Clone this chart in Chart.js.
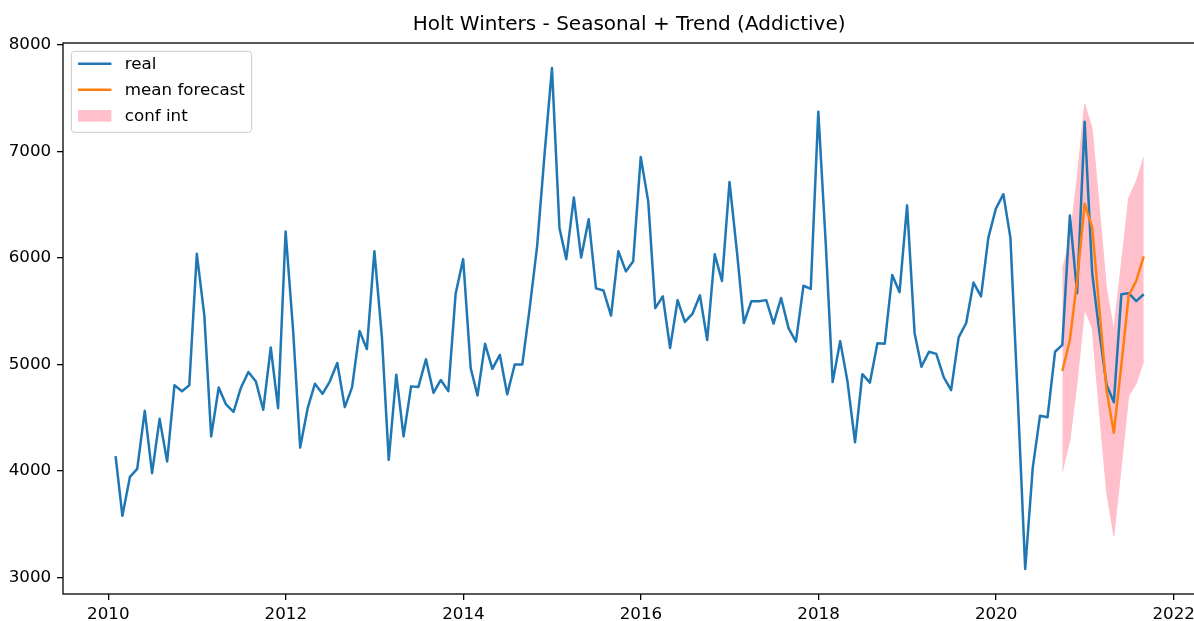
<!DOCTYPE html>
<html>
<head>
<meta charset="utf-8">
<script src="https://cdn.jsdelivr.net/npm/chart.js@4/dist/chart.umd.min.js"></script>
<style>
  html, body { margin: 0; padding: 0; background: #fff; overflow: hidden; }
  #wrap { position: relative; width: 1200px; height: 621px; }
</style>
</head>
<body>
<div id="wrap"><canvas id="chart"></canvas></div>
<script>
// ---- data ----
const chartTitle = 'Holt Winters - Seasonal + Trend (Addictive)';
const seriesLabels = ['real', 'mean forecast', 'conf int'];

// monthly observations, first month below (month-end timestamps)
const realStart = '2010-01';
const real = [
  4140, 3580, 3945, 4020, 4565, 3980, 4490, 4090, 4805, 4750, 4805, 6040,
  5460, 4325, 4785, 4625, 4555, 4780, 4930, 4840, 4575, 5160, 4590, 6250,
  5320, 4220, 4590, 4820, 4725, 4840, 5015, 4600, 4785, 5315, 5145, 6065,
  5255, 4105, 4905, 4325, 4795, 4790, 5050, 4735, 4855, 4750, 5665, 5990,
  4965, 4710, 5195, 4960, 5090, 4720, 5000, 5000, 5520, 6110, 6960, 7785,
  6280, 5990, 6570, 6005, 6365, 5715, 5695, 5460, 6065, 5875, 5970, 6950,
  6530, 5530, 5640, 5155, 5605, 5400, 5475, 5650, 5230, 6035, 5785, 6715,
  6050, 5390, 5595, 5595, 5605, 5385, 5625, 5340, 5215, 5740, 5710, 7375,
  6120, 4835, 5220, 4840, 4270, 4910, 4830, 5200, 5195, 5840, 5680, 6495,
  5295, 4980, 5120, 5100, 4880, 4760, 5255, 5390, 5770, 5640, 6190, 6465,
  6600, 6190, 4650, 3080, 4030, 4520, 4505, 5120, 5185, 6400, 5670, 7280,
  5860, 5330, 4810, 4645, 5660, 5670, 5595, 5660
];

// forecast horizon
const forecastStart = '2020-09';
const meanForecast = [4940, 5230, 5790, 6510, 6285, 5560, 4760, 4360, 5000, 5650, 5785, 6015];
const confUpper    = [5890, 6180, 6750, 7450, 7215, 6510, 5710, 5320, 5950, 6565, 6720, 6945];
const confLower    = [3995, 4290, 4840, 5525, 5340, 4600, 3810, 3390, 4050, 4705, 4820, 5035];

// axis ticks
const xTicks = [2010, 2012, 2014, 2016, 2018, 2020, 2022];
const yTicks = [3000, 4000, 5000, 6000, 7000, 8000];

// ---- helpers ----
// month-end of (start + k months) as a decimal year
function monthEndYear(start, k) {
  const [y, m] = start.split('-').map(Number);
  const d = Date.UTC(y, m + k, 0);
  const yr = new Date(d).getUTCFullYear();
  const a = Date.UTC(yr, 0, 1), b = Date.UTC(yr + 1, 0, 1);
  return yr + (d - a) / (b - a);
}
const toPoints = (start, vals) => vals.map((v, i) => ({ x: monthEndYear(start, i), y: v }));

const FONT = 'DejaVu Sans';
const BLUE = '#1f77b4', ORANGE = '#ff7f0e', PINK = '#ffc0cb';

// frame around the plotting area
const frame = {
  id: 'frame',
  afterDatasetsDraw(chart) {
    const { ctx, chartArea: a } = chart;
    ctx.save();
    ctx.strokeStyle = '#000';
    ctx.lineWidth = 1.3;
    ctx.strokeRect(a.left, a.top, a.right - a.left, a.bottom - a.top);
    ctx.restore();
  }
};

// legend box in the upper-left corner of the plotting area
const legendBox = {
  id: 'legendBox',
  afterDraw(chart) {
    const { ctx, chartArea: a } = chart;
    const fs = 16.7;
    const items = chart.data.datasets.filter(d => d.legendKind);
    ctx.save();
    ctx.font = fs + 'px "' + FONT + '"';
    const textW = Math.max(...items.map(d => ctx.measureText(d.label).width));
    const pad = 0.4 * fs, handleL = 2 * fs, gap = 0.8 * fs, pitch = 26;
    const x0 = a.left + 0.5 * fs, y0 = a.top + 0.5 * fs;
    const w = pad * 2 + handleL + gap + textW, h = 81;
    const r = 3;
    ctx.beginPath();
    ctx.moveTo(x0 + r, y0);
    ctx.lineTo(x0 + w - r, y0); ctx.arcTo(x0 + w, y0, x0 + w, y0 + r, r);
    ctx.lineTo(x0 + w, y0 + h - r); ctx.arcTo(x0 + w, y0 + h, x0 + w - r, y0 + h, r);
    ctx.lineTo(x0 + r, y0 + h); ctx.arcTo(x0, y0 + h, x0, y0 + h - r, r);
    ctx.lineTo(x0, y0 + r); ctx.arcTo(x0, y0, x0 + r, y0, r);
    ctx.closePath();
    ctx.fillStyle = 'rgba(255,255,255,0.8)';
    ctx.fill();
    ctx.strokeStyle = '#cccccc';
    ctx.lineWidth = 1;
    ctx.stroke();
    items.forEach((d, i) => {
      const cy = y0 + 12.5 + i * pitch;
      const hx = x0 + pad;
      if (d.legendKind === 'line') {
        ctx.strokeStyle = d.borderColor;
        ctx.lineWidth = 2.5;
        ctx.beginPath();
        ctx.moveTo(hx, cy); ctx.lineTo(hx + handleL, cy);
        ctx.stroke();
      } else {
        ctx.fillStyle = d.backgroundColor;
        ctx.fillRect(hx, cy - 0.35 * fs, handleL, 0.7 * fs);
      }
      ctx.fillStyle = '#000';
      ctx.textBaseline = 'middle';
      ctx.textAlign = 'left';
      ctx.fillText(d.label, hx + handleL + gap, cy + 1);
    });
    ctx.restore();
  }
};

const tickFont = { family: FONT, size: 16.7 };

new Chart(document.getElementById('chart'), {
  type: 'line',
  data: {
    datasets: [
      { label: seriesLabels[0], legendKind: 'line', data: toPoints(realStart, real),
        borderColor: BLUE, borderWidth: 2.5, pointRadius: 0, tension: 0, fill: false, order: 2,
        borderJoinStyle: 'round' },
      { label: seriesLabels[1], legendKind: 'line', data: toPoints(forecastStart, meanForecast),
        borderColor: ORANGE, borderWidth: 2.5, pointRadius: 0, tension: 0, fill: false, order: 1,
        borderJoinStyle: 'round' },
      { label: seriesLabels[2], legendKind: 'patch', data: toPoints(forecastStart, confUpper),
        borderColor: PINK, backgroundColor: PINK, borderWidth: 1, pointRadius: 0, tension: 0,
        fill: '+1', order: 3 },
      { label: '', data: toPoints(forecastStart, confLower),
        borderColor: PINK, backgroundColor: PINK, borderWidth: 1, pointRadius: 0, tension: 0,
        fill: false, order: 4 }
    ]
  },
  options: {
    responsive: true,
    maintainAspectRatio: false,
    animation: false,
    events: [],
    layout: { padding: { left: 0, right: 4.5, top: 0, bottom: 0 } },
    plugins: {
      legend: { display: false },
      tooltip: { enabled: false },
      filler: { drawTime: 'beforeDatasetsDraw' },
      title: {
        display: true, text: chartTitle, color: '#000', fullSize: false,
        font: { family: FONT, size: 20, weight: 'normal', lineHeight: 1.2 },
        padding: { top: 12.5, bottom: 6.5 }
      }
    },
    scales: {
      x: {
        type: 'linear', min: 2009.49, max: 2022.244,
        afterBuildTicks: s => { s.ticks = xTicks.map(v => ({ value: v })); },
        afterFit: s => { s.height = 27; },
        ticks: { callback: v => String(v), color: '#000', font: tickFont, padding: 5,
                 maxRotation: 0, autoSkip: false },
        grid: { drawOnChartArea: false, color: '#000', tickLength: 6, lineWidth: 1.3 },
        border: { display: false }
      },
      y: {
        type: 'linear', min: 2845, max: 8020,
        afterBuildTicks: s => { s.ticks = yTicks.map(v => ({ value: v })); },
        afterFit: s => { s.width = 63; },
        ticks: { callback: v => String(v), color: '#000', font: tickFont, padding: 5.8 },
        grid: { drawOnChartArea: false, color: '#000', tickLength: 6, lineWidth: 1.3 },
        border: { display: false }
      }
    }
  },
  plugins: [frame, legendBox]
});
</script>
</body>
</html>
